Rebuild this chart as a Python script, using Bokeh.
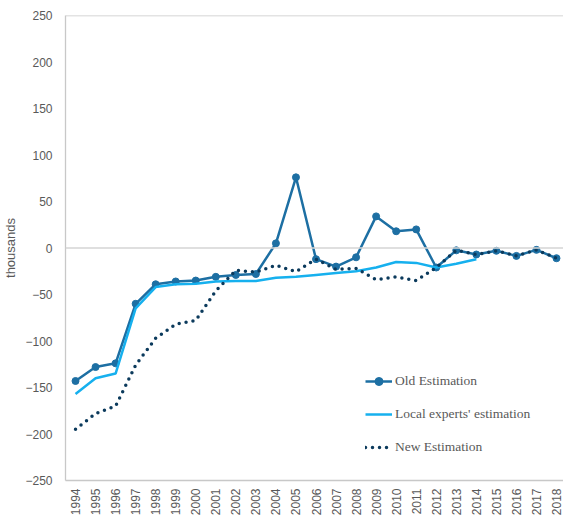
from bokeh.plotting import figure
from bokeh.models import Range1d, FixedTicker, Span, Legend, LegendItem
from bokeh.embed import file_html
from bokeh.resources import INLINE
import math

years = list(range(1994, 2019))
old_est = [-143, -128, -124, -60, -39, -36, -35, -31, -29, -28, 5, 76, -12, -20, -10, 34,
           18, 20, -21, -2.5, -7, -3, -8.5, -2, -11]
local_years = list(range(1994, 2015))
local_est = [-157, -140, -135, -65, -42, -39, -38.5, -36, -35.5, -35.5, -32, -31, -29, -27,
             -25, -21, -15, -16, -21, -17, -12]
new_est = [-195, -178, -170, -126, -97, -82, -78, -46, -24, -26, -18.5, -25.5, -12, -23,
           -22, -34, -31, -35, -21, -2.5, -7, -3, -8.5, -2, -11]
y_ticks = [-250, -200, -150, -100, -50, 0, 50, 100, 150, 200, 250]

C_OLD = "#1d6fa3"
C_LOCAL = "#16b0ee"
C_NEW = "#0b3a5c"
GREY_TXT = "#595959"
GREY_LINE = "#c8c8c8"

p = figure(width=563, height=519, output_backend="svg", toolbar_location=None,
           x_range=Range1d(1993.5, 2018.35), y_range=Range1d(-250, 250),
           min_border_left=65, min_border_top=15, min_border_right=0, min_border_bottom=39)
p.outline_line_color = None
p.xgrid.grid_line_color = None
p.ygrid.grid_line_color = None
p.background_fill_color = "white"

p.yaxis.ticker = FixedTicker(ticks=y_ticks)
p.xaxis.ticker = FixedTicker(ticks=years)
p.xaxis.major_label_orientation = math.pi / 2
for ax in (p.xaxis, p.yaxis):
    ax.major_tick_line_color = None
    ax.minor_tick_line_color = None
    ax.major_tick_out = 0
    ax.major_tick_in = 0
    ax.minor_tick_out = 0
    ax.minor_tick_in = 0
    ax.major_label_text_color = GREY_TXT
    ax.major_label_text_font = "Liberation Sans"
    ax.major_label_text_font_size = "12px"
    ax.axis_line_color = GREY_LINE
    ax.axis_line_width = 1.3
p.xaxis.major_label_standoff = 8
p.yaxis.major_label_standoff = 13
p.yaxis.axis_label = "thousands"
p.yaxis.axis_label_text_font = "Liberation Sans"
p.yaxis.axis_label_text_font_style = "normal"
p.yaxis.axis_label_text_font_size = "13px"
p.yaxis.axis_label_text_color = GREY_TXT
p.yaxis.axis_label_standoff = 4

p.add_layout(Span(location=0, dimension="width", line_color="#d4d4d4", line_width=1.5))
p.add_layout(Span(location=250, dimension="width", line_color=GREY_LINE, line_width=1.3))

r_old_l = p.line(years, old_est, line_color=C_OLD, line_width=2.5)
r_old_m = p.scatter(years, old_est, size=7, fill_color=C_OLD, line_color=C_OLD)
r_loc = p.line(local_years, local_est, line_color=C_LOCAL, line_width=2.5)
r_new = p.line(years, new_est, line_color=C_NEW, line_width=3.5, line_dash="0 7",
               line_cap="round")

legend = Legend(items=[
    LegendItem(label="Old Estimation", renderers=[r_old_l, r_old_m]),
    LegendItem(label="Local experts' estimation", renderers=[r_loc]),
    LegendItem(label="New Estimation", renderers=[r_new]),
], location=(300, 23))
legend.glyph_width = 27
legend.glyph_height = 20
legend.label_height = 20
legend.spacing = 13
legend.label_standoff = 3
legend.padding = 0
legend.margin = 0
legend.border_line_color = None
legend.background_fill_alpha = 0
legend.label_text_font = "Liberation Serif"
legend.label_text_font_size = "13.5px"
legend.label_text_color = GREY_TXT
p.add_layout(legend)

open("out.html", "w").write(file_html(p, INLINE))
